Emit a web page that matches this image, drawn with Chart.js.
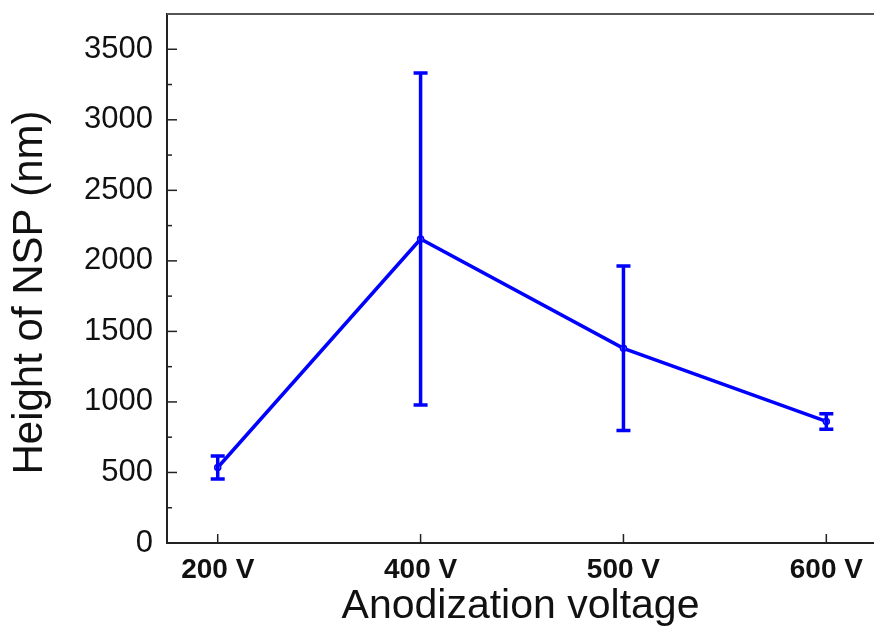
<!DOCTYPE html>
<html>
<head>
<meta charset="utf-8">
<script src="https://cdn.jsdelivr.net/npm/chart.js@4"></script>
<style>
  html, body { margin: 0; padding: 0; background: #fff; }
  #wrap { width: 874px; height: 628px; }
</style>
</head>
<body>
<div id="wrap"><canvas id="myChart" width="874" height="628"></canvas></div>
<script>
// valores
const voltajes = ['200 V', '400 V', '500 V', '600 V']
const alturas = [535, 2155, 1380, 862]
const errores = [82, 1177, 583, 55]
const yTicks = [0, 500, 1000, 1500, 2000, 2500, 3000, 3500]
const tituloY = 'Height of NSP (nm)'

const AZUL = '#0000ff'
const EJE = '#222222'

/**
 * barras de error, ticks hacia adentro, borde superior y título Y
 */
const extrasPlugin = {
  id: 'extras',
  afterDatasetsDraw(chart) {
    const { ctx, chartArea } = chart
    const x = chart.scales.x
    const y = chart.scales.y

    ctx.save()
    ctx.strokeStyle = AZUL
    ctx.lineWidth = 3.5
    alturas.forEach((v, i) => {
      const px = x.getPixelForValue(i + 1)
      const top = y.getPixelForValue(v + errores[i])
      const bot = y.getPixelForValue(v - errores[i])
      ctx.beginPath()
      ctx.moveTo(px, top)
      ctx.lineTo(px, bot)
      ctx.moveTo(px - 7, top)
      ctx.lineTo(px + 7, top)
      ctx.moveTo(px - 7, bot)
      ctx.lineTo(px + 7, bot)
      ctx.stroke()
    })

    // ticks
    ctx.strokeStyle = EJE
    ctx.lineWidth = 1.5
    for (let t = 0; t <= 3750; t += 250) {
      const py = y.getPixelForValue(t)
      const len = t % 500 === 0 ? 10 : 5
      ctx.beginPath()
      ctx.moveTo(chartArea.left, py)
      ctx.lineTo(chartArea.left + len, py)
      ctx.stroke()
    }
    voltajes.forEach((_, i) => {
      const px = x.getPixelForValue(i + 1)
      ctx.beginPath()
      ctx.moveTo(px, chartArea.bottom)
      ctx.lineTo(px, chartArea.bottom - 9)
      ctx.stroke()
    })

    // borde superior
    ctx.strokeStyle = '#555'
    ctx.lineWidth = 2
    ctx.beginPath()
    ctx.moveTo(chartArea.left, chartArea.top)
    ctx.lineTo(chart.width, chartArea.top)
    ctx.stroke()

    // título del eje Y (algo más abajo que el centro del área)
    ctx.fillStyle = '#111'
    ctx.font = '42px "Liberation Sans"'
    ctx.textAlign = 'center'
    ctx.textBaseline = 'middle'
    ctx.translate(30, (chartArea.top + chartArea.bottom) / 2 + 14)
    ctx.rotate(-Math.PI / 2)
    ctx.fillText(tituloY, 0, 0)
    ctx.restore()
  }
}

document.addEventListener('DOMContentLoaded', () => {
  const ctx = document.getElementById('myChart')

  new Chart(ctx, {
    type: 'line',
    data: {
      datasets: [{
        data: alturas.map((v, i) => ({ x: i + 1, y: v })),
        borderColor: AZUL,
        borderWidth: 3.5,
        pointRadius: 3,
        pointBorderWidth: 1.5,
        pointBackgroundColor: '#9a9aff',
        pointBorderColor: AZUL,
        tension: 0
      }]
    },
    options: {
      responsive: false,
      animation: false,
      layout: { autoPadding: false, padding: { top: 14, right: 0, left: 0, bottom: 0 } },
      plugins: { legend: { display: false }, tooltip: { enabled: false } },
      scales: {
        x: {
          type: 'linear',
          min: 0.75,
          max: 4.235,
          afterBuildTicks: (scale) => {
            scale.ticks = voltajes.map((_, i) => ({ value: i + 1 }))
          },
          afterFit: (scale) => {
            scale.height = 85
            scale.paddingLeft = 0
            scale.paddingRight = 0
          },
          grid: { display: false, drawTicks: false },
          border: { display: true, color: EJE, width: 2 },
          ticks: {
            padding: 10,
            color: '#111',
            font: { family: 'Liberation Sans', size: 28, weight: 'bold' },
            callback: (v) => voltajes[Math.round(v) - 1]
          },
          title: {
            display: true,
            text: 'Anodization voltage',
            color: '#111',
            font: { family: 'Liberation Sans', size: 41, lineHeight: 1 },
            padding: { top: 0, bottom: 1 }
          }
        },
        y: {
          min: 0,
          max: 3750,
          afterBuildTicks: (scale) => {
            scale.ticks = yTicks.map(v => ({ value: v }))
          },
          afterFit: (scale) => {
            scale.width = 167
            scale.paddingTop = 0
            scale.paddingBottom = 0
          },
          grid: { display: false, drawTicks: false },
          border: { display: true, color: EJE, width: 2 },
          ticks: {
            padding: 14,
            color: '#111',
            font: { family: 'Liberation Sans', size: 31 },
            callback: (v) => String(v)
          },
          title: { display: false }
        }
      }
    },
    plugins: [extrasPlugin]
  })
})
</script>
</body>
</html>
